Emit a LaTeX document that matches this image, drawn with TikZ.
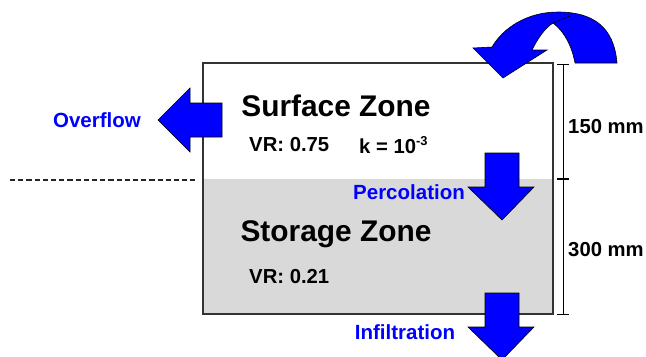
\documentclass[tikz,border=0pt]{standalone}
\usepackage{fontspec}
\setmainfont{Liberation Sans}
\usetikzlibrary{arrows.meta, positioning}
\definecolor{SoilGrey}{RGB}{217, 217, 217}
\definecolor{FluxBlue}{RGB}{0, 0, 255}

\begin{document}
\begin{tikzpicture}[
            x=0.03cm, y=-0.03cm,
            zone/.style={font=\bfseries\fontsize{25.5}{30}\selectfont, inner sep=0pt},
            param/.style={font=\bfseries\fontsize{17.3}{20}\selectfont, inner sep=0pt, anchor=west},
            flux/.style={font=\bfseries\fontsize{17.5}{20}\selectfont, text=FluxBlue, inner sep=0pt},
            blockarrow/.style={fill=FluxBlue, draw=black, line width=0.5pt, line join=miter},
            dimline/.style={{Bar[width=10pt]}-{Bar[width=10pt]}, line width=0.7pt}
        ]
            \useasboundingbox (0,0) rectangle (646,356);

            % column of soil
            \fill[SoilGrey] (203,179) rectangle (553,314);
            \draw[line width=1.1pt, black!80] (203,63) rectangle (553,314);
            \coordinate (levelA) at (10,180);
            \coordinate (levelB) at (195,180);
            \draw[dash pattern=on 4.5pt off 2.5pt, line width=1.1pt, black!85] (levelA) -- (levelB);

            % zones
            \node[zone] (surface) at (336,106) {Surface Zone};
            \node[param] (vrsurf) at (249,145) {VR: 0.75};
            \node[param] (ksurf) at (359,145) {k = 10\textsuperscript{\fontsize{11}{12}\selectfont -3}};
            \node[zone] (storage) at (336,234) {Storage Zone};
            \node[param] (vrstor) at (249,277) {VR: 0.21};

            % depths
            \coordinate (dimtop) at (563,64);
            \coordinate (dimmid) at (563,179);
            \coordinate (dimbot) at (563,315);
            \draw[dimline] (dimtop) -- (dimmid);
            \draw[dimline] (dimmid) -- (dimbot);
            \node[param] (h150) at (568,127) {150 mm};
            \node[param] (h300) at (568,250) {300 mm};

            % fluxes
            \filldraw[blockarrow] (222,103) -- (190,103) -- (190,88) -- (158,120)
                -- (190,152) -- (190,137) -- (222,137) -- cycle;
            \node[flux] (overflow) at (97,120) {Overflow};

            \filldraw[blockarrow] (485,153) -- (519,153) -- (519,187) -- (534,187)
                -- (502,220) -- (468,187) -- (485,187) -- cycle;
            \node[flux] (percolation) at (409,192) {Percolation};

            \filldraw[blockarrow] (485,293) -- (519,293) -- (519,327) -- (534,327)
                -- (502,360) -- (468,327) -- (485,327) -- cycle;
            \node[flux] (infiltration) at (405,332) {Infiltration};

            % rain in
            \filldraw[blockarrow] (575,63) -- (617,63) .. controls (614,26) and (592,12) .. (558,12)
                .. controls (527,12) and (503,28) .. (492,47) -- (473,48) -- (503,78) -- (547,50)
                -- (532,50) .. controls (538,38) and (545,28) .. (553,23)
                .. controls (565,32) and (572,47) .. (575,63) -- cycle;
            \draw[line width=0.5pt] (553,23) -- (570,16);
        \end{tikzpicture}
\end{document}
